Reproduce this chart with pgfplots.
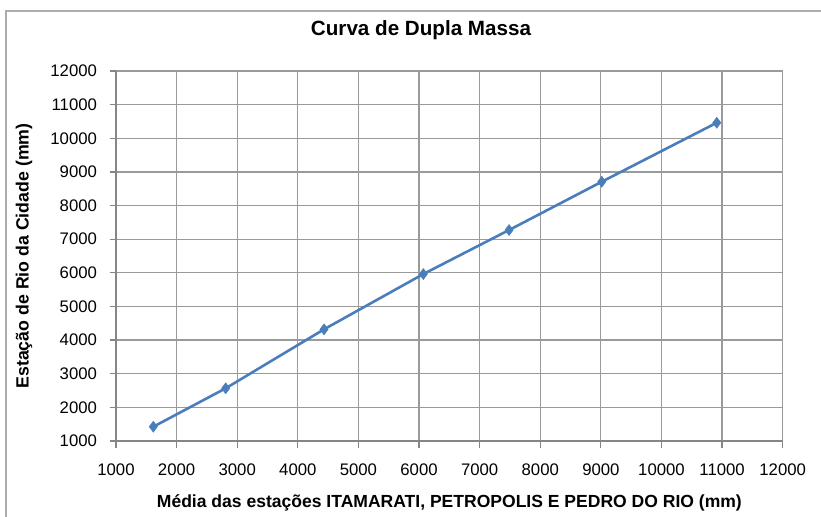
\documentclass[border=0pt]{standalone}
\usepackage{pgfplots}
\pgfplotsset{compat=1.18}
\usepackage{fontspec}
\setmainfont{Liberation Sans}
\newfontfamily\condbold{Liberation Sans Bold}
\definecolor{serieblue}{HTML}{4A7EBB}
\definecolor{gridgray}{HTML}{9A9A9A}
\definecolor{axisgray}{HTML}{868686}
\definecolor{framegray}{HTML}{ADADAD}
\begin{document}
\begin{tikzpicture}
\draw[framegray, line width=1.5bp] (821bp,-11bp) -- (6bp,-11bp) -- (6bp,-517bp);
\begin{axis}[
  at={(116bp,-441bp)}, anchor=south west,
  scale only axis, width=666.7bp, height=370bp,
  xmin=1000, xmax=12000, ymin=1000, ymax=12000,
  xtick={1000,2000,...,12000}, ytick={1000,2000,...,12000},
  scaled ticks=false,
  grid=major,
  grid style={gridgray, line width=1.2bp},
  axis lines=left,
  axis line style={-, axisgray, line width=1.4bp},
  tick align=outside,
  major tick length=6.5bp,
  tick style={axisgray, line width=1.2bp},
  /pgf/number format/1000 sep={},
  /pgf/number format/assume math mode=true,
  tick label style={font=\fontsize{16.8}{18}\selectfont, text=black},
  xticklabel style={yshift=-13bp},
  yticklabel style={xshift=-9bp},
  title={Curva de Dupla Massa},
  title style={at={(axis description cs:0.4575,1.0946)}, anchor=center, font=\condbold\fontsize{20.7}{24}\selectfont},
  xlabel={Média das estações ITAMARATI, PETROPOLIS E PEDRO DO RIO (mm)},
  xlabel style={at={(axis description cs:0.5,-0.1676)}, anchor=center, font=\condbold\fontsize{17.6}{20}\selectfont},
  ylabel={Estação de Rio da Cidade (mm)},
  ylabel style={at={(axis description cs:-0.138,0.5)}, anchor=center, rotate=0, font=\condbold\fontsize{17.8}{20}\selectfont},
  clip=false,
]
\addplot[serieblue, line width=2.6bp, mark=diamond*, mark size=5.5bp, mark options={fill=serieblue, line width=0.5bp}] coordinates {
  (1616,1425) (2810,2567) (4432,4320) (6071,5964) (7485,7272) (9015,8708) (10912,10462)
};
\end{axis}
\pgfresetboundingbox
\path[use as bounding box] (0,0) rectangle (821bp,-517bp);
\end{tikzpicture}
\end{document}
